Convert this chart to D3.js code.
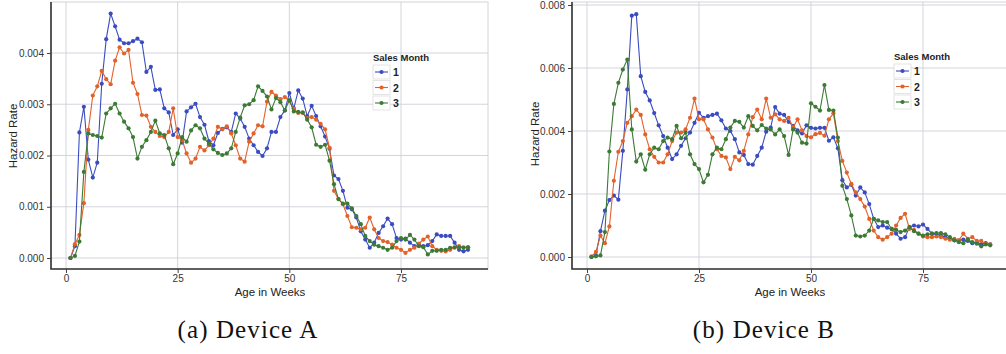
<!DOCTYPE html>
<html>
<head>
<meta charset="utf-8">
<script src="https://cdn.jsdelivr.net/npm/d3@7"></script>
<style>
  body { margin: 0; background: #fff; }
  svg { display: block; }
  .tick text { font-family: "Liberation Sans", Arial, sans-serif; font-size: 10px; fill: #333; }
</style>
</head>
<body>
<div id="chart"></div>
<script>
// hazard rates, in units of 0.001, for weeks 1..90
const weeks = d3.range(1, 91);

const deviceA_month1 = [0.00,0.23,2.45,2.95,1.92,1.57,1.86,3.40,4.27,4.77,4.52,4.26,4.19,4.19,4.23,4.28,4.21,3.63,3.73,3.28,
  3.29,2.92,2.84,2.40,2.51,2.25,2.86,2.94,3.01,2.75,2.60,2.28,2.20,2.44,2.52,2.55,2.46,2.82,2.72,2.56,
  2.33,2.20,2.07,1.99,2.14,2.46,2.46,2.75,2.88,3.22,2.92,3.27,3.11,2.77,2.97,2.77,2.57,2.37,2.13,1.61,
  1.54,1.31,0.98,0.95,0.79,0.52,0.36,0.20,0.30,0.49,0.62,0.77,0.66,0.39,0.36,0.38,0.30,0.23,0.26,0.23,
  0.25,0.33,0.46,0.43,0.43,0.43,0.30,0.16,0.13,0.16];
const deviceA_month2 = [0.00,0.27,0.45,1.07,2.50,3.17,3.35,3.65,3.49,3.39,3.85,4.11,3.99,4.06,3.42,3.20,2.79,2.78,2.56,2.46,
  2.38,2.36,2.46,2.92,2.36,2.30,2.04,1.86,1.94,2.17,2.10,2.20,2.33,2.56,2.51,2.57,2.43,2.20,1.94,1.88,
  2.27,2.43,2.59,2.57,3.05,3.24,3.17,3.10,3.14,3.06,2.91,2.83,2.83,2.73,2.75,2.70,2.62,2.51,2.15,1.31,
  1.15,1.05,0.82,0.60,0.59,0.56,0.59,0.79,0.56,0.39,0.33,0.31,0.26,0.20,0.16,0.10,0.16,0.20,0.28,0.36,
  0.42,0.23,0.16,0.14,0.13,0.16,0.20,0.23,0.21,0.21];
const deviceA_month3 = [0.00,0.04,0.32,1.68,2.43,2.40,2.38,2.35,2.82,2.92,3.01,2.82,2.66,2.53,2.36,1.94,2.17,2.30,2.46,2.68,
  2.43,2.40,2.14,1.83,2.04,2.36,2.27,2.49,2.59,2.53,2.33,2.23,2.12,2.05,2.01,2.04,2.14,2.46,2.74,2.98,
  3.00,3.08,3.35,3.26,3.15,2.90,3.12,3.04,2.88,3.08,2.86,2.85,2.84,2.70,2.55,2.21,2.17,2.21,1.90,1.44,
  1.15,1.06,1.06,0.97,0.82,0.66,0.43,0.33,0.26,0.23,0.20,0.16,0.20,0.33,0.39,0.36,0.45,0.36,0.23,0.21,
  0.07,0.14,0.14,0.16,0.16,0.20,0.21,0.21,0.20,0.21];

const deviceB_month1 = [0.00,0.05,0.82,1.47,1.81,1.95,1.82,3.37,5.32,7.66,7.71,5.74,5.24,4.97,4.57,4.18,3.84,3.47,3.11,3.26,
  3.53,3.77,3.95,4.26,4.58,4.42,4.47,4.51,4.55,4.34,4.08,4.00,3.74,3.32,3.24,2.95,2.93,3.21,3.47,3.98,
  4.11,4.76,4.55,4.51,4.29,4.16,4.02,3.92,4.18,4.10,4.08,4.10,4.10,3.69,3.80,3.45,2.44,2.21,2.29,1.95,
  2.21,2.05,1.68,1.21,0.95,1.00,0.93,0.89,0.74,0.58,0.63,0.95,1.00,0.97,1.03,0.89,0.74,0.72,0.68,0.63,
  0.58,0.53,0.53,0.55,0.51,0.44,0.47,0.40,0.44,0.40];
const deviceB_month2 = [0.02,0.16,0.68,0.44,0.97,2.42,3.34,3.68,4.26,4.47,4.68,4.51,3.89,3.42,3.18,3.00,3.00,3.26,3.68,3.95,
  3.95,4.05,4.42,5.03,4.37,4.37,4.05,3.79,3.42,3.21,3.16,2.79,3.18,3.07,3.37,3.89,4.44,4.68,4.37,5.03,
  4.42,4.53,4.37,4.32,4.42,4.11,4.37,4.02,3.84,3.80,3.90,3.94,3.85,4.37,4.56,3.68,3.05,2.68,2.32,2.05,
  1.84,1.60,1.21,0.84,0.63,0.55,0.63,0.74,1.00,1.24,1.37,0.89,0.86,0.74,0.65,0.63,0.63,0.65,0.63,0.58,
  0.55,0.58,0.53,0.74,0.58,0.63,0.51,0.51,0.42,0.40];
const deviceB_month3 = [0.00,0.02,0.05,0.79,3.35,4.86,5.53,5.95,6.27,4.05,3.03,3.26,2.77,3.26,3.47,3.42,3.68,3.79,3.74,4.16,
  3.77,3.95,3.26,2.95,2.79,2.37,2.61,3.26,3.47,3.42,3.74,4.11,4.32,4.29,4.11,4.47,4.16,4.02,4.19,4.08,
  4.05,3.89,4.05,3.84,3.24,4.05,3.95,3.63,3.60,4.88,4.77,4.65,5.46,4.67,4.65,3.79,2.26,1.84,1.32,0.68,
  0.65,0.68,0.84,1.21,1.16,1.11,1.11,0.89,0.86,0.79,0.84,0.95,0.82,0.74,0.68,0.72,0.74,0.76,0.76,0.72,
  0.63,0.53,0.47,0.44,0.55,0.47,0.42,0.34,0.40,0.37];

const months = ["1", "2", "3"];
const colors = ["#3b4cc0", "#e2622a", "#3c7a36"];
const xTicks = [0, 25, 50, 75];
const yTicksA = [0, 1, 2, 3, 4];
const yTicksB = [0, 2, 4, 6, 8];

const width = 1006, height = 354;
const svg = d3.select("#chart").append("svg")
  .attr("width", width)
  .attr("height", height);

function drawPanel(p) {
  const g = svg.append("g");

  const x = d3.scaleLinear().domain([0, 75]).range([p.x0, p.x75]);
  const y = d3.scaleLinear().domain([0, p.yTicks[p.yTicks.length - 1]]).range([p.y0, p.yTop]);

  // panel frame (light) + grid
  g.append("rect")
    .attr("x", p.left).attr("y", p.top)
    .attr("width", p.right - p.left).attr("height", p.bottom - p.top)
    .attr("fill", "none").attr("stroke", "#d4d4d8").attr("stroke-width", 1);

  g.selectAll(".vgrid").data(xTicks).enter().append("line")
    .attr("x1", d => x(d)).attr("x2", d => x(d))
    .attr("y1", p.top).attr("y2", p.bottom)
    .attr("stroke", "#cfd0d8").attr("stroke-width", 0.9);
  g.selectAll(".hgrid").data(p.yTicks).enter().append("line")
    .attr("x1", p.left).attr("x2", p.right)
    .attr("y1", d => y(d)).attr("y2", d => y(d))
    .attr("stroke", "#cfd0d8").attr("stroke-width", 0.9);

  // axes
  const xAxis = g.append("g")
    .attr("transform", `translate(0,${p.bottom})`)
    .call(d3.axisBottom(x).tickValues(xTicks).tickSize(4).tickPadding(2));
  xAxis.select(".domain").remove();
  xAxis.selectAll(".tick line").attr("stroke", "#444");

  const yAxis = g.append("g")
    .attr("transform", `translate(${p.left},0)`)
    .call(d3.axisLeft(y).tickValues(p.yTicks).tickSize(4).tickPadding(3)
      .tickFormat(d => (d / 1000).toFixed(3)));
  yAxis.select(".domain").remove();
  yAxis.selectAll(".tick line").attr("stroke", "#444");

  g.append("path")
    .attr("d", `M${p.left},${p.top}V${p.bottom}H${p.right}`)
    .attr("fill", "none").attr("stroke", "#333").attr("stroke-width", 1.6);

  // series
  const line = d3.line().x((d, i) => x(weeks[i])).y(d => y(d));
  p.series.forEach((s, k) => {
    g.append("path")
      .datum(s)
      .attr("d", line)
      .attr("fill", "none")
      .attr("stroke", colors[k])
      .attr("stroke-width", 1.1);
    g.selectAll(".pt" + k).data(s).enter().append("circle")
      .attr("cx", (d, i) => x(weeks[i]))
      .attr("cy", d => y(d))
      .attr("r", 2.1)
      .attr("fill", colors[k]);
  });

  // axis titles
  g.append("text")
    .attr("x", p.xTitleX)
    .attr("y", p.bottom + 27)
    .attr("text-anchor", "middle")
    .style("font-family", "Liberation Sans, Arial, sans-serif")
    .style("font-size", "11.5px").attr("fill", "#222")
    .text("Age in Weeks");
  g.append("text")
    .attr("transform", `translate(${p.yTitleX},${p.yTitleY}) rotate(-90)`)
    .attr("text-anchor", "middle")
    .style("font-family", "Liberation Sans, Arial, sans-serif")
    .style("font-size", "11.5px").attr("fill", "#222")
    .text("Hazard Rate");

  // legend
  const lg = g.append("g").attr("transform", `translate(${p.legX},${p.legY})`);
  lg.append("text")
    .attr("x", 0).attr("y", 0)
    .style("font-family", "Liberation Sans, Arial, sans-serif")
    .style("font-size", "9.5px").style("font-weight", "bold").attr("fill", "#222")
    .text("Sales Month");
  months.forEach((m, k) => {
    const cy = 11 + k * 15.5;
    lg.append("rect")
      .attr("x", 0).attr("y", cy - 7).attr("width", 17).attr("height", 14)
      .attr("fill", "#fff").attr("stroke", "#ddd").attr("stroke-width", 0.8);
    lg.append("line")
      .attr("x1", 2).attr("x2", 15).attr("y1", cy).attr("y2", cy)
      .attr("stroke", colors[k]).attr("stroke-width", 1.1);
    lg.append("circle").attr("cx", 8.5).attr("cy", cy).attr("r", 2.1).attr("fill", colors[k]);
    lg.append("text")
      .attr("x", 20).attr("y", cy + 4)
      .style("font-family", "Liberation Sans, Arial, sans-serif")
      .style("font-size", "10.5px").style("font-weight", "bold").attr("fill", "#222")
      .text(m);
  });

  // caption
  svg.append("text")
    .attr("x", p.capX).attr("y", 338)
    .attr("text-anchor", "middle")
    .style("font-family", "Liberation Serif, 'DejaVu Serif', serif")
    .style("font-size", "25px").style("letter-spacing", "1.1px").attr("fill", "#111")
    .text(p.caption);
}

drawPanel({
  series: [deviceA_month1, deviceA_month2, deviceA_month3],
  yTicks: yTicksA,
  left: 51, right: 488, top: 2, bottom: 269,
  x0: 66, x75: 401, y0: 258, yTop: 53,
  xTitleX: 270,
  yTitleX: 17, yTitleY: 136,
  legX: 373, legY: 61,
  capX: 248, caption: "(a) Device A"
});

drawPanel({
  series: [deviceB_month1, deviceB_month2, deviceB_month3],
  yTicks: yTicksB,
  left: 572, right: 1010, top: 2, bottom: 269,
  x0: 587, x75: 923, y0: 257, yTop: 5,
  xTitleX: 790,
  yTitleX: 539, yTitleY: 134,
  legX: 894, legY: 60,
  capX: 764, caption: "(b) Device B"
});
</script>
</body>
</html>
